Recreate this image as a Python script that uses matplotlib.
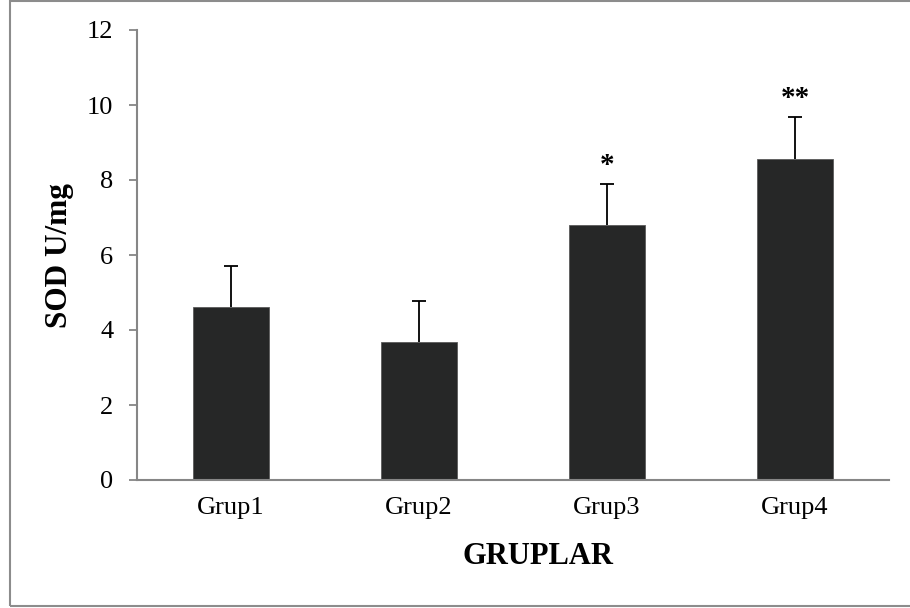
import matplotlib.pyplot as plt
from matplotlib.patches import Rectangle
import numpy as np

# SOD activity per group
groups = ['Grup1', 'Grup2', 'Grup3', 'Grup4']
sod_mean = [4.62, 3.68, 6.80, 8.57]
sod_err = [1.10, 1.10, 1.10, 1.10]
signif = ['', '', '*', '**']

plt.rcParams['font.family'] = ['Liberation Serif', 'DejaVu Serif']

W, H = 910, 608
fig = plt.figure(figsize=(W / 100, H / 100), dpi=100)
ax = fig.add_axes([137 / W, 1 - 480 / H, (889 - 137) / W, 450 / H])

x = np.arange(len(groups))
ax.bar(x, sod_mean, width=0.4, color='#262727', edgecolor='#5a5a5a', linewidth=0.6, zorder=2)
eb = ax.errorbar(x, sod_mean, yerr=[np.zeros(len(x)), sod_err], fmt='none',
                 ecolor='black', elinewidth=1.3, capsize=4.7, capthick=1.3, zorder=3)
# only the upper cap, like the original
eb[1][0].set_visible(False)

for xi, m, e, s in zip(x, sod_mean, sod_err, signif):
    if s:
        ax.annotate(s, (xi, m + e), xytext=(0, 8), textcoords='offset points',
                    ha='center', va='baseline', fontsize=21, fontweight='bold')

ax.set_xlim(-0.5, len(groups) - 0.5)
ax.set_ylim(0, 12)
ax.set_yticks(np.arange(0, 13, 2))
ax.set_xticks(x)
ax.set_xticklabels(groups)

for side in ['top', 'right']:
    ax.spines[side].set_visible(False)
for side in ['left', 'bottom']:
    ax.spines[side].set_color('#868686')
    ax.spines[side].set_linewidth(1.5)

ax.tick_params(axis='y', length=6, width=1.3, color='#868686', labelsize=19, pad=11)
ax.tick_params(axis='x', length=0, labelsize=19, pad=12)

fig.text(60 / W, 1 - 256 / H, 'SOD U/mg', rotation=90, ha='center', va='center',
         fontsize=22.5, fontweight='bold')
fig.text(538 / W, 1 - 557 / H, 'GRUPLAR', ha='center', va='center',
         fontsize=22, fontweight='bold')

# outer chart border (left, top, bottom visible)
fig.patches.append(Rectangle((9.5 / W, 1 - 606 / H), 1.2, (605 / H), transform=fig.transFigure,
                             fill=False, edgecolor='#8c8c8c', linewidth=1.5))

fig.savefig('out.png', dpi=100)
